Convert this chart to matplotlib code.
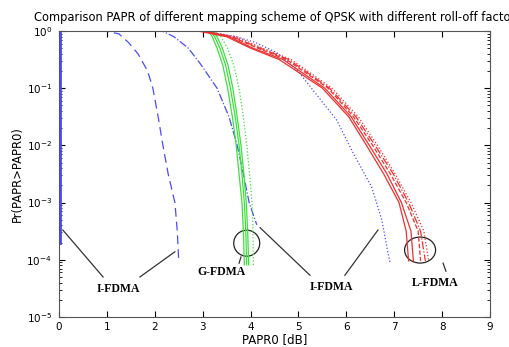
import matplotlib
matplotlib.use('Agg')
import matplotlib.pyplot as plt
import matplotlib.transforms as mtransforms
from matplotlib.patches import Ellipse
import numpy as np

blue_solid_x = [0.02, 0.02]
blue_solid_y = [0, -3.71]

blue_dash_x = [0.0, 0.95, 1.25, 1.45, 1.65, 1.85, 1.96, 2.07, 2.17, 2.28, 2.42, 2.47, 2.5]
blue_dash_y = [0, 0, -0.05, -0.2, -0.4, -0.7, -1.0, -1.5, -2.0, -2.5, -3.0, -3.5, -4.02]

blue_dashdot_x = [1.2, 2.15, 2.4, 2.7, 2.94, 3.3, 3.55, 3.72, 3.85, 3.97, 4.13]
blue_dashdot_y = [0, 0, -0.1, -0.3, -0.56, -1.0, -1.5, -2.0, -2.5, -3.0, -3.39]

blue_dot_x = [2.0, 3.0, 3.7, 4.1, 4.55, 4.97, 5.3, 5.8, 6.14, 6.53, 6.74, 6.87, 6.91]
blue_dot_y = [0, 0, -0.1, -0.2, -0.38, -0.68, -1.03, -1.56, -2.13, -2.73, -3.3, -3.88, -4.04]

green_y = [0, 0, -0.1, -0.3, -0.6, -1.0, -1.5, -2.0, -2.5, -3.0, -3.5, -4.09]
green_x = [
    [2.1, 3.12, 3.20, 3.30, 3.42, 3.52, 3.62, 3.70, 3.76, 3.82, 3.85, 3.87],
    [2.1, 3.16, 3.25, 3.36, 3.48, 3.58, 3.68, 3.76, 3.82, 3.87, 3.90, 3.92],
    [2.1, 3.20, 3.30, 3.41, 3.53, 3.63, 3.72, 3.80, 3.86, 3.91, 3.94, 3.96],
    [2.1, 3.25, 3.38, 3.52, 3.65, 3.76, 3.85, 3.92, 3.98, 4.03, 4.05, 4.06],
]
green_styles = ['-', '-', '-', ':']

red_y = [0, 0, -0.1, -0.3, -0.5, -1.0, -1.5, -2.0, -2.5, -3.0, -3.5, -4.02]
red_x = [
    [1.7, 2.90, 3.50, 4.00, 4.60, 5.50, 6.05, 6.42, 6.78, 7.10, 7.25, 7.30],
    [1.7, 2.95, 3.55, 4.05, 4.68, 5.55, 6.10, 6.48, 6.85, 7.15, 7.35, 7.40],
    [1.7, 3.00, 3.60, 4.15, 4.75, 5.62, 6.15, 6.55, 6.92, 7.25, 7.50, 7.55],
    [1.7, 3.00, 3.62, 4.20, 4.80, 5.65, 6.20, 6.60, 6.98, 7.30, 7.55, 7.65],
    [1.7, 3.05, 3.70, 4.25, 4.85, 5.70, 6.25, 6.65, 7.02, 7.35, 7.62, 7.72],
]
red_styles = ['-', '-', '--', '-.', ':']

blue = '#4a4aff'
green = '#3ee03e'
red = '#ee3030'

fig = plt.figure(figsize=(5.1, 3.47), dpi=100)
ax = fig.add_axes([0.1157, 0.0865, 0.8451, 0.8242])

lw = 0.9
ax.plot(blue_solid_x, 10.0 ** np.array(blue_solid_y), '-', color=blue, lw=2)
ax.plot(blue_dash_x, 10.0 ** np.array(blue_dash_y), color=blue, lw=lw, dashes=(7, 4))
ax.plot(blue_dashdot_x, 10.0 ** np.array(blue_dashdot_y), '-.', color=blue, lw=lw)
ax.plot(blue_dot_x, 10.0 ** np.array(blue_dot_y), ':', color=blue, lw=lw)
for xs, st in zip(green_x, green_styles):
    ax.plot(xs, 10.0 ** np.array(green_y), st, color=green, lw=lw)
for xs, st in zip(red_x, red_styles):
    ax.plot(xs, 10.0 ** np.array(red_y), st, color=red, lw=lw)

ax.set_yscale('log')
ax.set_xlim(0, 9)
ax.set_ylim(1e-5, 1)
ax.set_xticks(range(10))
ax.tick_params(which='both', direction='in', top=True, right=True, labelsize=7.5)
ax.tick_params(which='major', length=4)
ax.tick_params(which='minor', length=2)
ax.tick_params(axis='y', pad=5)
ax.set_xlabel('PAPR0 [dB]', fontsize=8.5, labelpad=1)
ax.set_ylabel('Pr(PAPR>PAPR0)', fontsize=8.3, labelpad=2)
ax.set_title('Comparison PAPR of different mapping scheme of QPSK with different roll-off factor',
             fontsize=8.3, pad=7)
for sp in ax.spines.values():
    sp.set_color('#555555')

# annotation lines, labels and circles
ann_lines = [
    ([0.08, 0.92], [-3.48, -4.30]),
    ([1.69, 2.42], [-4.30, -3.86]),
    ([3.80, 3.76], [-3.95, -4.06]),
    ([4.20, 5.24], [-3.44, -4.27]),
    ([5.97, 6.66], [-4.27, -3.48]),
    ([8.02, 8.08], [-4.06, -4.20]),
]
for xs, ys in ann_lines:
    ax.plot(xs, 10.0 ** np.array(ys), '-', color='#333333', lw=0.9)

labels = [('I-FDMA', 1.23, -4.51), ('G-FDMA', 3.40, -4.21),
          ('I-FDMA', 5.68, -4.48), ('L-FDMA', 7.85, -4.41)]
for txt, x, y in labels:
    ax.text(x, 10.0 ** y, txt, ha='center', va='center', fontsize=8.5,
            fontweight='bold', family='Liberation Serif')

circles = [(3.92, -3.71, 0.26, 0.26), (7.54, -3.83, 0.31, 0.26)]
for x, y, w, h in circles:
    tr = fig.dpi_scale_trans + mtransforms.ScaledTranslation(x, 10.0 ** y, ax.transData)
    ax.add_patch(Ellipse((0, 0), w, h, transform=tr, fill=False, ec='#222222', lw=0.9))

fig.savefig('out.png', dpi=100)
